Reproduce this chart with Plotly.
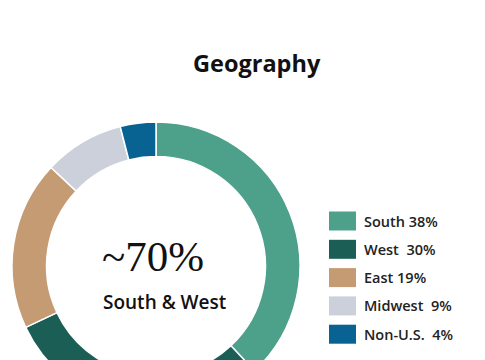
import plotly.graph_objects as go

# ---- data ----
regions = ["South", "West", "East", "Midwest", "Non-U.S."]
shares = [38, 30, 19, 9, 4]
legend_gaps = [" ", "  ", " ", "  ", "  "]
colors = ["#4DA08A", "#1B5E56", "#C49B72", "#CBD0DA", "#086292"]
title_text = "Geography"
center_big = "~70%"
center_small = "South & West"

W, H = 485, 420


def px(x):
    return x / W


def py(y):
    return 1 - y / H


fig = go.Figure()
fig.add_trace(go.Pie(
    labels=regions,
    values=shares,
    sort=False,
    direction="clockwise",
    rotation=0,
    hole=0.76,
    marker=dict(colors=colors, line=dict(color="white", width=1.5)),
    textinfo="none",
    hoverinfo="none",
    showlegend=False,
    domain=dict(x=[px(12), px(300)], y=[py(410), py(122)]),
))

shapes = []
annotations = []
row0, step = 221, 28.3
for i, (r, v, g, c) in enumerate(zip(regions, shares, legend_gaps, colors)):
    yc = row0 + i * step
    shapes.append(dict(type="rect", xref="paper", yref="paper",
                       x0=px(329), x1=px(356), y0=py(yc + 9.5), y1=py(yc - 9.5),
                       fillcolor=c, line=dict(width=0)))
    annotations.append(dict(text=f"{r}{g}{v}%", x=px(362), y=py(yc),
                            xref="paper", yref="paper", xanchor="left", yanchor="middle",
                            showarrow=False,
                            font=dict(family="Open Sans", size=14.5, weight=600, color="#222222")))

annotations.append(dict(text=title_text, x=px(257), y=py(63),
                        xref="paper", yref="paper", xanchor="center", yanchor="middle",
                        showarrow=False,
                        font=dict(family="Open Sans", size=23.5, weight=700, color="#111111")))
annotations.append(dict(text=center_big, x=px(100), y=py(256),
                        xref="paper", yref="paper", xanchor="left", yanchor="middle",
                        showarrow=False,
                        font=dict(family="Liberation Serif", size=43, color="#111111")))
annotations.append(dict(text=center_small, x=px(101), y=py(302),
                        xref="paper", yref="paper", xanchor="left", yanchor="middle",
                        showarrow=False,
                        font=dict(family="Open Sans", size=19, weight=600, color="#111111")))

fig.update_layout(
    width=W, height=H,
    margin=dict(l=0, r=0, t=0, b=0),
    paper_bgcolor="white", plot_bgcolor="white",
    shapes=shapes, annotations=annotations,
)

fig.write_html("out.html",
               post_script="document.body.style.margin='0';document.body.style.overflow='hidden';document.documentElement.style.overflow='hidden';")
